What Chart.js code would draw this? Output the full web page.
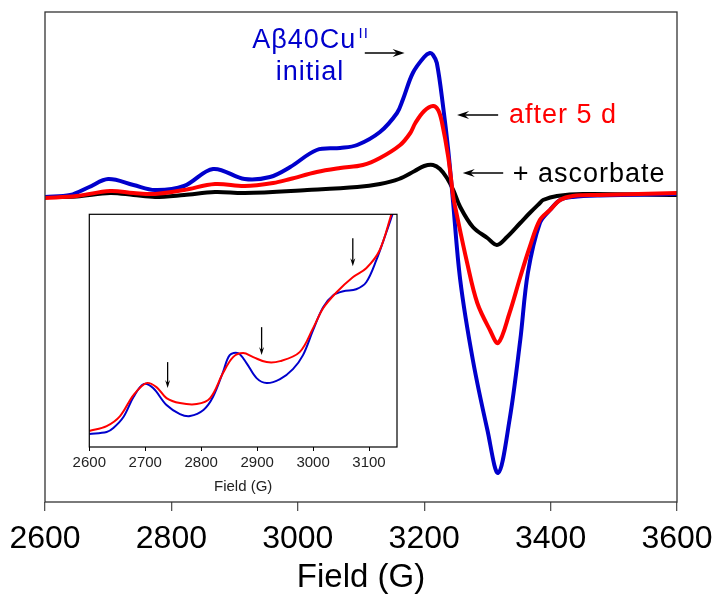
<!DOCTYPE html>
<html>
<head>
<meta charset="utf-8">
<script src="https://cdn.jsdelivr.net/npm/chart.js@4"></script>
<style>
  body { margin: 0; background: #fff; }
  #wrap { position: relative; width: 725px; height: 598px; }
  #main { position: absolute; left: 0; top: 0; }
  #inset { position: absolute; left: 60px; top: 200px; background: #fff; }
</style>
</head>
<body>
<div id="wrap">
  <canvas id="main" width="725" height="598"></canvas>
  <canvas id="inset" width="360" height="298"></canvas>
</div>
<script>
// ---- main spectrum (field in G, intensity in arbitrary units) ----
const blueField = [2600, 2640, 2670, 2700, 2740, 2774, 2820, 2866, 2916, 2956, 2988, 3030, 3067, 3094, 3130, 3157, 3166, 3182, 3200, 3209, 3214, 3220, 3230, 3238, 3245, 3257, 3277, 3300, 3317, 3335, 3352, 3364, 3383, 3399, 3415, 3435, 3478, 3600];
const blueInt   = [0, 2, 10, 18, 12, 7, 11, 28, 18, 20, 30, 47, 49, 52, 65, 84, 97, 124, 140, 144, 142, 134, 90, 47, 0, -83, -163, -233, -276, -223, -143, -76, -26, -13, -3, 0, 1.5, 3];

const redField = [2600, 2650, 2703, 2740, 2774, 2820, 2869, 2916, 2961, 2988, 3030, 3067, 3103, 3130, 3162, 3178, 3186, 3200, 3214, 3222, 3228, 3238, 3246, 3249, 3268, 3284, 3304, 3317, 3335, 3352, 3367, 3383, 3399, 3415, 3435, 3478, 3600];
const redInt   = [-1, 1, 6, 4, 3, 7, 13, 11, 14, 18, 25, 29, 32, 39, 52, 64, 74, 86, 91, 87, 75, 40, 0, -10, -66, -106, -133, -146, -116, -80, -50, -23, -13, -3, 1, 2, 4];

const blackField = [2600, 2650, 2703, 2740, 2774, 2820, 2869, 2916, 3015, 3094, 3130, 3160, 3185, 3200, 3214, 3225, 3236, 3246, 3257, 3277, 3300, 3315, 3331, 3352, 3367, 3383, 3388, 3410, 3451, 3600];
const blackInt   = [0, 0.5, 4, 2, 0, 2, 5, 4, 7, 10, 13, 18, 26, 31, 32, 28, 19, 7, -10, -30, -41, -48, -40, -26, -16, -6, -3, 1, 3, 2];

const mainTicks = [2600, 2800, 3000, 3200, 3400, 3600];

// ---- inset (zoomed low-field region) ----
const insetBlueField = [2600, 2631, 2643, 2661, 2679, 2697, 2714, 2738, 2762, 2780, 2804, 2821, 2839, 2851, 2866, 2881, 2899, 2917, 2941, 2964, 2982, 3000, 3018, 3036, 3054, 3077, 3095, 3113, 3131, 3142, 3150];
const insetBlueInt   = [13, 15, 19, 30, 50, 63, 59, 42, 33, 31, 37, 50, 75, 92, 94, 84, 69, 64, 68, 78, 92, 117, 140, 152, 156, 158, 165, 187, 215, 233, 246];

const insetRedField = [2600, 2631, 2655, 2679, 2702, 2720, 2738, 2762, 2792, 2816, 2839, 2857, 2875, 2893, 2917, 2941, 2976, 3000, 3018, 3042, 3071, 3095, 3119, 3140, 3150];
const insetRedInt   = [16, 21, 31, 52, 64, 60, 49, 44, 43, 49, 74, 90, 94, 90, 85, 86, 95, 119, 139, 155, 170, 179, 197, 233, 250];

const insetTicks = [2600, 2700, 2800, 2900, 3000, 3100];

const BLUE = "#0000cc";
const RED = "#ff0000";
const FONT = '"Liberation Sans", Arial, sans-serif';

function pts(xs, ys) {
  return xs.map((x, i) => ({ x: x, y: ys[i] }));
}

function drawArrow(ctx, x1, y1, x2, y2, len, wid) {
  const ang = Math.atan2(y2 - y1, x2 - x1);
  const c = Math.cos(ang), s = Math.sin(ang);
  ctx.beginPath();
  ctx.moveTo(x1, y1);
  ctx.lineTo(x2 - c * len * 0.6, y2 - s * len * 0.6);
  ctx.stroke();
  ctx.beginPath();
  ctx.moveTo(x2, y2);
  ctx.lineTo(x2 - c * len - s * wid / 2, y2 - s * len + c * wid / 2);
  ctx.lineTo(x2 - c * len * 0.65, y2 - s * len * 0.65);
  ctx.lineTo(x2 - c * len + s * wid / 2, y2 - s * len - c * wid / 2);
  ctx.closePath();
  ctx.fill();
}

// frame round the plot area
const frame = {
  id: "frame",
  afterDraw(chart, args, opts) {
    const { ctx, chartArea: a } = chart;
    ctx.save();
    ctx.strokeStyle = opts.color;
    ctx.lineWidth = opts.width;
    ctx.strokeRect(a.left, a.top, a.right - a.left, a.bottom - a.top);
    ctx.restore();
  }
};

// arrows and text labels, placed in data coordinates
const notes = {
  id: "notes",
  afterDatasetsDraw(chart, args, opts) {
    const { ctx, scales: { x, y } } = chart;
    ctx.save();
    ctx.strokeStyle = "#000";
    ctx.fillStyle = "#000";
    ctx.lineWidth = 1.3;
    (opts.arrows || []).forEach((a) => {
      drawArrow(ctx, x.getPixelForValue(a[0]), y.getPixelForValue(a[1]),
        x.getPixelForValue(a[2]), y.getPixelForValue(a[3]), opts.headLen, opts.headWid);
    });
    ctx.textBaseline = "alphabetic";
    ctx.letterSpacing = "1px";
    (opts.labels || []).forEach((l) => {
      ctx.font = l.size + "px " + FONT;
      ctx.fillStyle = l.color;
      ctx.fillText(l.text, x.getPixelForValue(l.x), y.getPixelForValue(l.y));
    });
    ctx.restore();
  }
};

// ===============================
// main chart
// ===============================
new Chart(document.getElementById("main"), {
  type: "line",
  data: {
    datasets: [
      { label: "after 5 d", data: pts(redField, redInt), borderColor: RED, borderWidth: 4, order: 1 },
      { label: "Aβ40CuII initial", data: pts(blueField, blueInt), borderColor: BLUE, borderWidth: 4, order: 2 },
      { label: "+ ascorbate", data: pts(blackField, blackInt), borderColor: "#000", borderWidth: 4, order: 3 }
    ]
  },
  options: {
    responsive: false,
    animation: false,
    layout: { padding: { left: 45, right: 48, top: 12, bottom: 0 } },
    elements: { point: { radius: 0 }, line: { tension: 0.35, borderJoinStyle: "round", borderCapStyle: "round" } },
    scales: {
      x: {
        type: "linear",
        min: 2600,
        max: 3600,
        afterBuildTicks: (s) => { s.ticks = mainTicks.map((v) => ({ value: v })); },
        afterFit: (s) => { s.height = 96; },
        ticks: { callback: (v) => String(v), color: "#000", font: { family: FONT, size: 32 }, padding: 9, maxRotation: 0, autoSkip: false },
        grid: { drawOnChartArea: false, drawTicks: true, tickLength: 9, color: "#555", lineWidth: 1.3 },
        border: { display: false },
        title: { display: true, text: "Field (G)", color: "#000", font: { family: FONT, size: 33 }, padding: { top: 0, bottom: 0 } }
      },
      y: { type: "linear", display: false, min: -305, max: 185 }
    },
    plugins: {
      legend: { display: false },
      tooltip: { enabled: false },
      frame: { color: "#333", width: 1.3 },
      notes: {
        headLen: 12,
        headWid: 8,
        arrows: [
          [3106, 144, 3169, 144],
          [3317, 82, 3252, 82],
          [3325, 24, 3261, 24]
        ],
        labels: [
          { text: "Aβ40Cu", x: 2928, y: 149, size: 27, color: BLUE },
          { text: "II", x: 3096, y: 159, size: 15, color: BLUE },
          { text: "initial", x: 2965, y: 117, size: 27, color: BLUE },
          { text: "after 5 d", x: 3334, y: 74, size: 27, color: RED },
          { text: "+ ascorbate", x: 3340, y: 15, size: 27, color: "#000" }
        ]
      }
    }
  },
  plugins: [frame, notes]
});

// ===============================
// inset chart
// ===============================
new Chart(document.getElementById("inset"), {
  type: "line",
  data: {
    datasets: [
      { label: "after 5 d", data: pts(insetRedField, insetRedInt), borderColor: RED, borderWidth: 2, order: 1 },
      { label: "initial", data: pts(insetBlueField, insetBlueInt), borderColor: BLUE, borderWidth: 2, order: 2 }
    ]
  },
  options: {
    responsive: false,
    animation: false,
    layout: { padding: { left: 29.3, right: 23, top: 14.3, bottom: 0 } },
    elements: { point: { radius: 0 }, line: { tension: 0.35, borderJoinStyle: "round" } },
    scales: {
      x: {
        type: "linear",
        min: 2600,
        max: 3150,
        afterBuildTicks: (s) => { s.ticks = insetTicks.map((v) => ({ value: v })); },
        afterFit: (s) => { s.height = 51; },
        ticks: { callback: (v) => String(v), color: "#222", font: { family: FONT, size: 15 }, padding: 3, maxRotation: 0, autoSkip: false },
        grid: { drawOnChartArea: false, drawTicks: true, tickLength: 4, color: "#000", lineWidth: 1 },
        border: { display: false },
        title: { display: true, text: "Field (G)", color: "#222", font: { family: FONT, size: 15 }, padding: { top: 0, bottom: 2 } }
      },
      y: { type: "linear", display: false, min: 0, max: 233 }
    },
    plugins: {
      legend: { display: false },
      tooltip: { enabled: false },
      frame: { color: "#000", width: 1.2 },
      notes: {
        headLen: 8,
        headWid: 5,
        arrows: [
          [2740, 85, 2740, 59],
          [2908, 120, 2908, 92],
          [3071, 209, 3071, 181]
        ],
        labels: []
      }
    }
  },
  plugins: [frame, notes]
});
</script>
</body>
</html>
